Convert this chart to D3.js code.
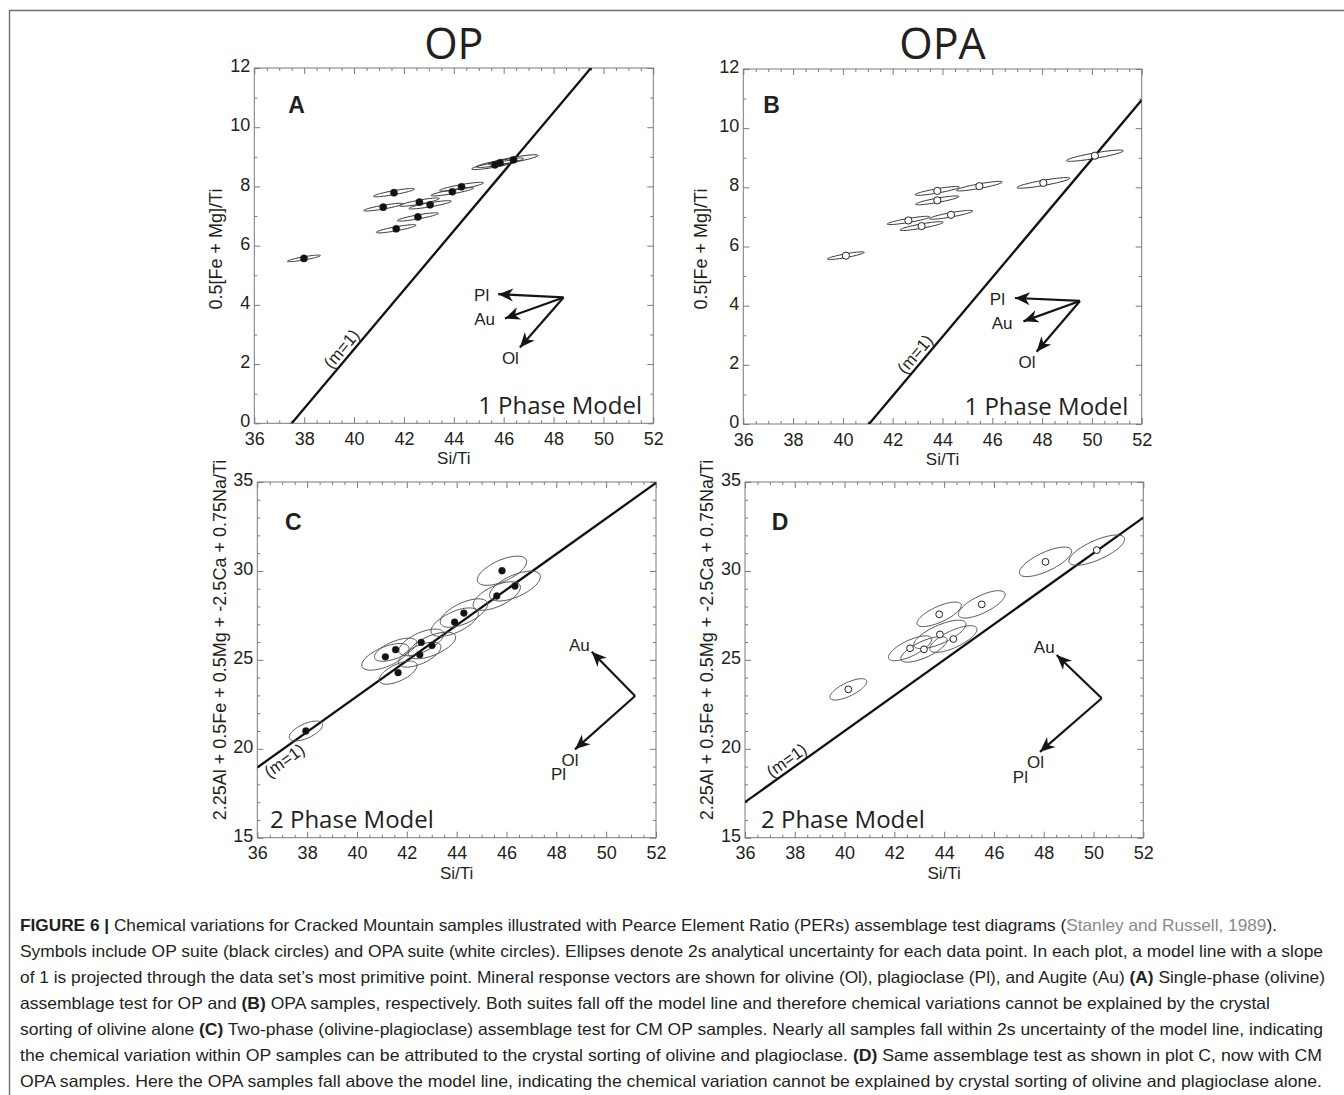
<!DOCTYPE html>
<html>
<head>
<meta charset="utf-8">
<script src="https://cdn.jsdelivr.net/npm/d3@7"></script>
<style>
  body { margin: 0; background: #fff; }
  svg text { font-family: "Liberation Sans", Arial, sans-serif; fill: #231f20; }
  .axis .domain { display: none; }
  .axis line { stroke: #7a7a7a; }
  .axis text { font-size: 18px; }
  .humanist { font-family: "Open Sans", "Noto Sans", sans-serif; }
  .caption { font-family: Roboto, "Liberation Sans", sans-serif; font-size: 16.5px; }
</style>
</head>
<body>
<svg id="fig" width="1344" height="1095"></svg>
<script>
// ---- shared axis values
const siTiDomain = [36, 52];
const siTiTicks = [36, 38, 40, 42, 44, 46, 48, 50, 52];
const onePhaseTicks = [0, 2, 4, 6, 8, 10, 12];
const twoPhaseTicks = [15, 20, 25, 30, 35];

// ---- A: OP suite, 0.5[Fe+Mg]/Ti vs Si/Ti
const opSiTi_A = [41.60, 41.17, 42.62, 43.05, 42.56, 41.69, 43.94, 44.31, 45.65, 45.85, 46.39, 37.99];
const opFeMg_A = [7.79, 7.30, 7.47, 7.38, 6.97, 6.57, 7.82, 7.99, 8.73, 8.80, 8.90, 5.57];
const opErrX_A = [0.82, 0.78, 0.80, 0.85, 0.82, 0.80, 0.85, 0.88, 0.93, 0.95, 1.00, 0.66];
const opErrY_A = [0.14, 0.13, 0.14, 0.14, 0.14, 0.14, 0.14, 0.15, 0.16, 0.16, 0.17, 0.11];

// ---- B: OPA suite
const opaSiTi_B = [43.79, 43.79, 45.48, 48.05, 50.12, 42.63, 43.16, 44.34, 40.12];
const opaFeMg_B = [7.88, 7.56, 8.04, 8.15, 9.07, 6.88, 6.69, 7.07, 5.69];
const opaErrX_B = [0.89, 0.87, 0.92, 1.06, 1.14, 0.85, 0.87, 0.87, 0.74];
const opaErrY_B = [0.15, 0.15, 0.16, 0.18, 0.19, 0.14, 0.15, 0.15, 0.13];

// ---- C: OP suite, 2-phase PER
const opSiTi_C = [41.14, 41.55, 42.58, 43.01, 42.52, 43.92, 44.29, 45.61, 45.82, 46.34, 41.65, 37.95];
const opPer_C = [25.17, 25.57, 25.98, 25.81, 25.29, 27.12, 27.63, 28.59, 30.01, 29.15, 24.28, 21.00];
const opErrX_C = [0.95, 0.85, 0.90, 0.95, 0.85, 0.95, 0.95, 0.95, 0.99, 1.02, 0.76, 0.67];
const opErrY_C = [0.75, 0.65, 0.75, 0.75, 0.70, 0.80, 0.80, 0.80, 0.82, 0.84, 0.65, 0.56];

// ---- D: OPA suite, 2-phase PER
const opaSiTi_D = [48.07, 50.13, 43.80, 45.51, 43.83, 44.37, 42.63, 43.19, 40.15];
const opaPer_D = [30.51, 31.17, 27.56, 28.12, 26.43, 26.17, 25.65, 25.59, 23.34];
const opaErrX_D = [1.05, 1.12, 0.89, 0.94, 1.05, 0.95, 0.87, 0.93, 0.74];
const opaErrY_D = [0.83, 0.85, 0.69, 0.77, 0.80, 0.75, 0.70, 0.72, 0.60];

// model lines (slope 1): y = x - offset
const modelOffsets = [37.5, 41.05, 17.05, 19.0];

// mineral response vectors (origin + tips, data units)
const vecNames1 = ["Pl", "Au", "Ol"];
const vecOriginA = [48.40, 4.25];
const vecTipX_A = [45.78, 46.05, 46.65];
const vecTipY_A = [4.36, 3.54, 2.56];
const vecOriginB = [49.52, 4.16];
const vecTipX_B = [46.91, 47.25, 47.78];
const vecTipY_B = [4.26, 3.47, 2.44];
const vecNames2 = ["Au", "Ol"];
const vecOriginC = [51.16, 22.97];
const vecTipX_C = [49.42, 48.75];
const vecTipY_C = [25.46, 19.97];
const vecOriginD = [50.33, 22.84];
const vecTipX_D = [48.52, 47.85];
const vecTipY_D = [25.27, 19.83];

const captionLines = [
  [["FIGURE 6 | ", "b"], ["Chemical variations for Cracked Mountain samples illustrated with Pearce Element Ratio (PERs) assemblage test diagrams (", ""], ["Stanley and Russell, 1989", "g"], [").", ""]],
  [["Symbols include OP suite (black circles) and OPA suite (white circles). Ellipses denote 2s analytical uncertainty for each data point. In each plot, a model line with a slope", ""]],
  [["of 1 is projected through the data set\u2019s most primitive point. Mineral response vectors are shown for olivine (Ol), plagioclase (Pl), and Augite (Au) ", ""], ["(A)", "b"], [" Single-phase (olivine)", ""]],
  [["assemblage test for OP and ", ""], ["(B)", "b"], [" OPA samples, respectively. Both suites fall off the model line and therefore chemical variations cannot be explained by the crystal", ""]],
  [["sorting of olivine alone ", ""], ["(C)", "b"], [" Two-phase (olivine-plagioclase) assemblage test for CM OP samples. Nearly all samples fall within 2s uncertainty of the model line, indicating", ""]],
  [["the chemical variation within OP samples can be attributed to the crystal sorting of olivine and plagioclase. ", ""], ["(D)", "b"], [" Same assemblage test as shown in plot C, now with CM", ""]],
  [["OPA samples. Here the OPA samples fall above the model line, indicating the chemical variation cannot be explained by crystal sorting of olivine and plagioclase alone.", ""]]
];
const captionEnds = [1277, 1323, 1325, 1270, 1323, 1322, 1322];

const panels = [
  { id: "A", title: "OP", left: 254.3, top: 68, width: 399, height: 355.3,
    yDomain: [0, 12], yTicks: onePhaseTicks, yMinorStep: 1,
    xs: opSiTi_A, ys: opFeMg_A, ex: opErrX_A, ey: opErrY_A, rho: 0.87,
    open: false, r: 3.6, ellStroke: "#333", ellWidth: 1,
    offset: modelOffsets[0], mLabelX: 39.8, mLabelSide: "above",
    origin: vecOriginA, tipX: vecTipX_A, tipY: vecTipY_A, names: vecNames1,
    labels: [{ i: 0, t: "Pl", dx: -9, dy: 7, a: "end" }, { i: 1, t: "Au", dx: -10, dy: 7, a: "end" }, { i: 2, t: "Ol", dx: -9.5, dy: 16.5, a: "middle" }],
    letterDx: 34, letterDy: 45, phase: "1 Phase Model", phaseX: 387.7, phaseAnchor: "end",
    yTitle: "0.5[Fe + Mg]/Ti", yTitleX: 222, yTitleY: 249 },
  { id: "B", title: "OPA", left: 743.3, top: 69, width: 398.4, height: 355,
    yDomain: [0, 12], yTicks: onePhaseTicks, yMinorStep: 1,
    xs: opaSiTi_B, ys: opaFeMg_B, ex: opaErrX_B, ey: opaErrY_B, rho: 0.87,
    open: true, r: 3.6, ellStroke: "#333", ellWidth: 1,
    offset: modelOffsets[1], mLabelX: 43.2, mLabelSide: "above",
    origin: vecOriginB, tipX: vecTipX_B, tipY: vecTipY_B, names: vecNames1,
    labels: [{ i: 0, t: "Pl", dx: -10, dy: 7, a: "end" }, { i: 1, t: "Au", dx: -11, dy: 7.5, a: "end" }, { i: 2, t: "Ol", dx: -9.5, dy: 16, a: "middle" }],
    letterDx: 20, letterDy: 44.3, phase: "1 Phase Model", phaseX: 385, phaseAnchor: "end",
    yTitle: "0.5[Fe + Mg]/Ti", yTitleX: 707, yTitleY: 249 },
  { id: "C", title: null, left: 257.3, top: 482, width: 398.7, height: 355.7,
    yDomain: [15, 35], yTicks: twoPhaseTicks, yMinorStep: 1,
    xs: opSiTi_C, ys: opPer_C, ex: opErrX_C, ey: opErrY_C, rho: 0.62,
    open: false, r: 3.4, ellStroke: "#555", ellWidth: 1,
    offset: modelOffsets[2], mLabelX: 36.85, mLabelSide: "below",
    origin: vecOriginC, tipX: vecTipX_C, tipY: vecTipY_C, names: vecNames2,
    labels: [{ i: 0, t: "Au", dx: -2, dy: -1, a: "end" }, { i: 1, t: "Ol", dx: -5, dy: 17, a: "middle" }, { i: 1, t: "Pl", dx: -9, dy: 31, a: "end" }],
    letterDx: 27.7, letterDy: 48, phase: "2 Phase Model", phaseX: 12.7, phaseAnchor: "start",
    yTitle: "2.25Al + 0.5Fe + 0.5Mg + -2.5Ca + 0.75Na/Ti", yTitleX: 226, yTitleY: 640 },
  { id: "D", title: null, left: 745, top: 482, width: 398.3, height: 355.7,
    yDomain: [15, 35], yTicks: twoPhaseTicks, yMinorStep: 1,
    xs: opaSiTi_D, ys: opaPer_D, ex: opaErrX_D, ey: opaErrY_D, rho: 0.72,
    open: true, r: 3.4, ellStroke: "#555", ellWidth: 1,
    offset: modelOffsets[3], mLabelX: 37.9, mLabelSide: "above",
    origin: vecOriginD, tipX: vecTipX_D, tipY: vecTipY_D, names: vecNames2,
    labels: [{ i: 0, t: "Au", dx: -2, dy: -2, a: "end" }, { i: 1, t: "Ol", dx: -4.5, dy: 16.5, a: "middle" }, { i: 1, t: "Pl", dx: -12, dy: 31, a: "end" }],
    letterDx: 26.7, letterDy: 48, phase: "2 Phase Model", phaseX: 16, phaseAnchor: "start",
    yTitle: "2.25Al + 0.5Fe + 0.5Mg + -2.5Ca + 0.75Na/Ti", yTitleX: 713, yTitleY: 640 }
];

const svg = d3.select("#fig");
const defs = svg.append("defs");

defs.append("marker")
  .attr("id", "arrowHead")
  .attr("viewBox", "-17 -8 18 16")
  .attr("refX", 0).attr("refY", 0)
  .attr("markerWidth", 18).attr("markerHeight", 16)
  .attr("markerUnits", "userSpaceOnUse")
  .attr("orient", "auto")
  .append("path")
  .attr("d", "M0,0L-15,-6.5L-10.5,0L-15,6.5Z")
  .attr("fill", "#151515");

// figure frame (top and left rules)
svg.append("path")
  .attr("d", "M9.5,1095V10.5H1344")
  .attr("fill", "none")
  .attr("stroke", "#6d6d6d")
  .attr("stroke-width", 1.4);

function ellipsePath(cx, cy, sx, sy, rho, x, y) {
  const k = Math.sqrt(1 - rho * rho);
  const pts = d3.range(72).map(i => {
    const t = i / 72 * 2 * Math.PI;
    return [x(cx + sx * Math.cos(t)), y(cy + sy * (rho * Math.cos(t) + k * Math.sin(t)))];
  });
  return d3.line().curve(d3.curveLinearClosed)(pts);
}

function drawPanel(p) {
  const x = d3.scaleLinear().domain(siTiDomain).range([p.left, p.left + p.width]);
  const y = d3.scaleLinear().domain(p.yDomain).range([p.top + p.height, p.top]);
  const g = svg.append("g").attr("id", "panel" + p.id);

  defs.append("clipPath").attr("id", "clip" + p.id)
    .append("rect")
    .attr("x", p.left).attr("y", p.top)
    .attr("width", p.width).attr("height", p.height);

  const xMinor = d3.range(siTiDomain[0], siTiDomain[1] + 0.01, 0.5).filter(v => !siTiTicks.includes(v));
  const yMinor = d3.range(p.yDomain[0], p.yDomain[1] + 0.01, p.yMinorStep).filter(v => !p.yTicks.includes(v));
  const bottom = p.top + p.height;
  const right = p.left + p.width;

  // ticks on all four sides, pointing inward
  g.append("g").attr("class", "axis").attr("transform", `translate(0,${bottom})`)
    .call(d3.axisBottom(x).tickValues(siTiTicks).tickSize(-6).tickPadding(9).tickFormat(d3.format("d")));
  g.append("g").attr("class", "axis").attr("transform", `translate(0,${bottom})`)
    .call(d3.axisBottom(x).tickValues(xMinor).tickSize(-3).tickFormat(""));
  g.append("g").attr("class", "axis").attr("transform", `translate(0,${p.top})`)
    .call(d3.axisTop(x).tickValues(siTiTicks).tickSize(-6).tickFormat(""));
  g.append("g").attr("class", "axis").attr("transform", `translate(0,${p.top})`)
    .call(d3.axisTop(x).tickValues(xMinor).tickSize(-3).tickFormat(""));
  const yAx = g.append("g").attr("class", "axis").attr("transform", `translate(${p.left},0)`)
    .call(d3.axisLeft(y).tickValues(p.yTicks).tickSize(-6).tickPadding(4).tickFormat(d3.format("d")));
  yAx.selectAll("text").attr("dy", "0.2em");
  g.append("g").attr("class", "axis").attr("transform", `translate(${p.left},0)`)
    .call(d3.axisLeft(y).tickValues(yMinor).tickSize(-3).tickFormat(""));
  g.append("g").attr("class", "axis").attr("transform", `translate(${right},0)`)
    .call(d3.axisRight(y).tickValues(p.yTicks).tickSize(-6).tickFormat(""));
  g.append("g").attr("class", "axis").attr("transform", `translate(${right},0)`)
    .call(d3.axisRight(y).tickValues(yMinor).tickSize(-3).tickFormat(""));

  g.append("rect")
    .attr("x", p.left).attr("y", p.top)
    .attr("width", p.width).attr("height", p.height)
    .attr("fill", "none").attr("stroke", "#7a7a7a").attr("stroke-width", 1);

  // model line, slope 1
  g.append("path")
    .datum(siTiDomain)
    .attr("clip-path", `url(#clip${p.id})`)
    .attr("d", d3.line().x(d => x(d)).y(d => y(d - p.offset)))
    .attr("stroke", "#111").attr("stroke-width", 2.3).attr("fill", "none");

  // (m=1) label along the line
  const angle = Math.atan2(y(1) - y(0), x(1) - x(0)) * 180 / Math.PI;
  g.append("text")
    .attr("transform", `translate(${x(p.mLabelX)},${y(p.mLabelX - p.offset)}) rotate(${angle})`)
    .attr("y", p.mLabelSide === "above" ? -4 : 16)
    .attr("text-anchor", "middle")
    .style("font-size", "17px")
    .text("(m=1)");

  // 2s error ellipses
  const idx = d3.range(p.xs.length);
  g.append("g").selectAll("path")
    .data(idx)
    .join("path")
    .attr("d", i => ellipsePath(p.xs[i], p.ys[i], p.ex[i], p.ey[i], p.rho, x, y))
    .attr("fill", "none")
    .attr("stroke", p.ellStroke)
    .attr("stroke-width", p.ellWidth);

  g.append("g").selectAll("circle")
    .data(idx)
    .join("circle")
    .attr("cx", i => x(p.xs[i]))
    .attr("cy", i => y(p.ys[i]))
    .attr("r", p.r)
    .attr("fill", p.open ? "#fff" : "#111")
    .attr("stroke", "#222")
    .attr("stroke-width", p.open ? 1 : 0.5);

  // mineral response vectors
  g.append("g").selectAll("line")
    .data(p.names)
    .join("line")
    .attr("x1", x(p.origin[0])).attr("y1", y(p.origin[1]))
    .attr("x2", (d, i) => x(p.tipX[i])).attr("y2", (d, i) => y(p.tipY[i]))
    .attr("stroke", "#151515").attr("stroke-width", 2.2)
    .attr("marker-end", "url(#arrowHead)");

  g.append("g").selectAll("text")
    .data(p.labels)
    .join("text")
    .attr("x", d => x(p.tipX[d.i]) + d.dx)
    .attr("y", d => y(p.tipY[d.i]) + d.dy)
    .attr("text-anchor", d => d.a)
    .style("font-size", "17px")
    .text(d => d.t);

  // panel letter
  g.append("text")
    .attr("x", p.left + p.letterDx).attr("y", p.top + p.letterDy)
    .style("font-size", "23px").style("font-weight", "bold")
    .text(p.id);

  // model name
  g.append("text")
    .attr("class", "humanist")
    .attr("x", p.left + p.phaseX).attr("y", bottom - 9.4)
    .attr("text-anchor", p.phaseAnchor)
    .style("font-size", "24px")
    .text(p.phase);

  // axis titles
  g.append("text")
    .attr("x", p.left + p.width / 2).attr("y", bottom + 41)
    .attr("text-anchor", "middle")
    .style("font-size", "17px")
    .text("Si/Ti");
  g.append("text")
    .attr("transform", `translate(${p.yTitleX},${p.yTitleY}) rotate(-90)`)
    .attr("text-anchor", "middle")
    .style("font-size", "18px")
    .text(p.yTitle);

  if (p.title) {
    g.append("text")
      .attr("class", "humanist")
      .attr("x", p.left + p.width / 2).attr("y", 59)
      .attr("text-anchor", "middle")
      .style("font-size", "43px")
      .text(p.title);
  }
}

panels.forEach(drawPanel);

// caption
const cap = svg.append("g").attr("class", "caption");
captionLines.forEach((segs, li) => {
  const t = cap.append("text")
    .attr("x", 20)
    .attr("y", 930.5 + li * 26)
    .attr("textLength", captionEnds[li] - 20)
    .attr("lengthAdjust", "spacingAndGlyphs");
  segs.forEach(([s, st]) => {
    t.append("tspan")
      .style("font-weight", st === "b" ? "bold" : null)
      .style("fill", st === "g" ? "#8a8a8a" : null)
      .text(s);
  });
});
</script>
</body>
</html>
